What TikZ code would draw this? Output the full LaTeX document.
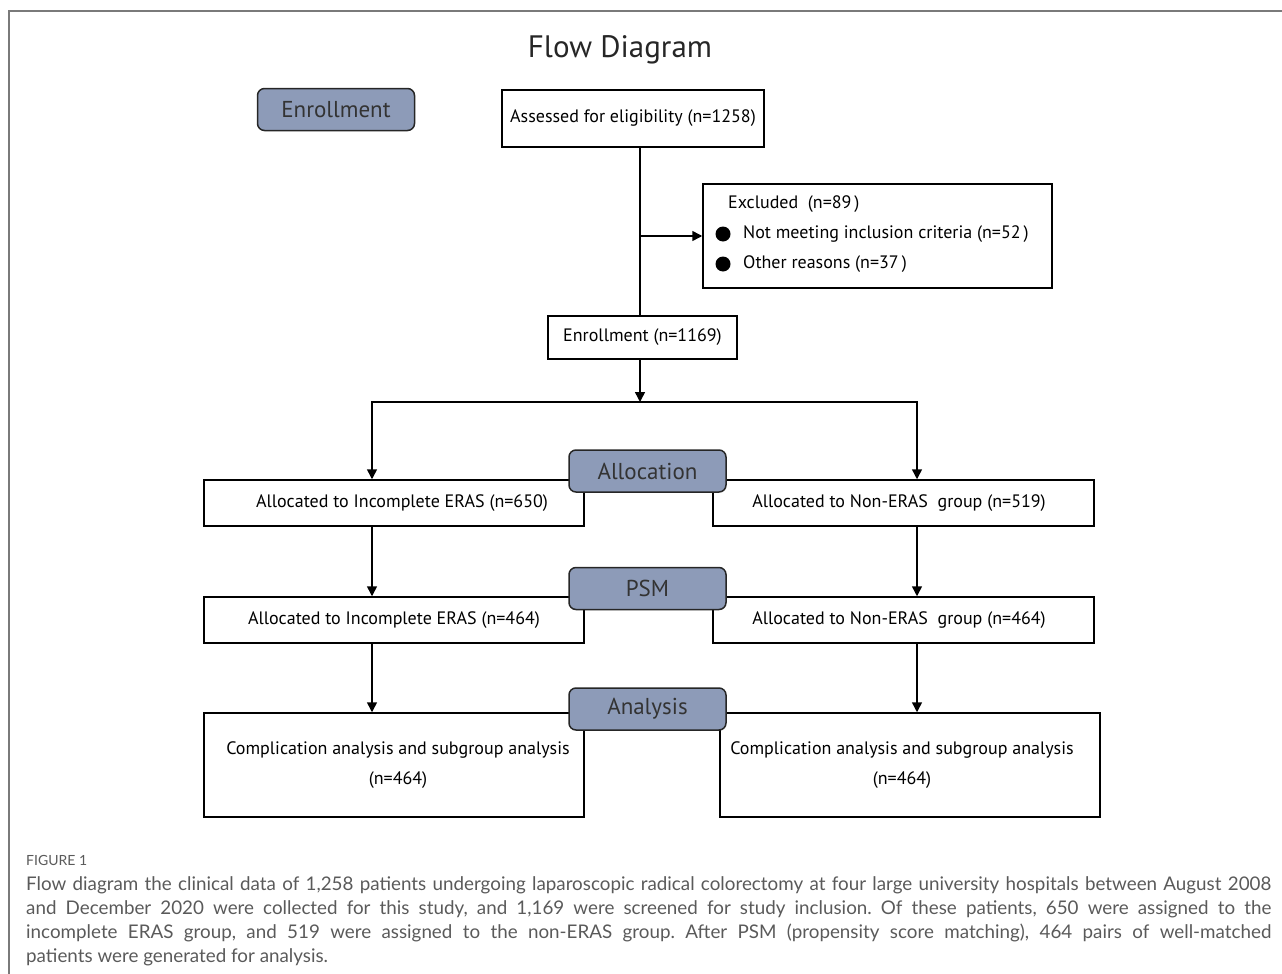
\documentclass[tikz,border=0pt]{standalone}
\usepackage{fontspec}
\setmainfont{PT Sans}
\newfontfamily\capfont{Lato}
\usetikzlibrary{arrows.meta}
\definecolor{lab}{HTML}{8D9BB8}
\definecolor{labtxt}{HTML}{333333}
\definecolor{captxt}{HTML}{5A5A5A}
\definecolor{framec}{HTML}{7A7A7A}
\tikzset{
  box/.style={draw=black, line width=1.5pt, fill=white, inner sep=0pt, font=\fontsize{18}{22}\selectfont, align=center},
  lbl/.style={draw=black!85, line width=1.5pt, fill=lab, rounded corners=7pt, inner sep=0pt, minimum width=157pt, minimum height=42pt, text=labtxt, font=\fontsize{23}{26}\selectfont},
  conn/.style={line width=1.5pt},
  arr/.style={line width=1.5pt, -{Triangle[length=10pt,width=10pt]}},
  txt/.style={inner sep=0pt, font=\fontsize{18}{22}\selectfont}
}
\begin{document}
\frenchspacing
\begin{tikzpicture}[x=1pt,y=-1pt]
\useasboundingbox (0,0) rectangle (1282,974);
% frame
\draw[framec, line width=1.5pt] (9,974) -- (9,11) -- (1282,11);
% title
\node[inner sep=0pt, font=\fontsize{31}{34}\selectfont, text=black!85] (title) at (620,50) {Flow Diagram};
% column coordinates
\coordinate (trunk) at (640,0);
\coordinate (colL) at (372,0);
\coordinate (colR) at (917,0);
\coordinate (split) at (640,402);
% boxes
\node[box, minimum width=262pt, minimum height=57pt] (assess) at (633,118.5) {Assessed for eligibility (n=1258)};
\node[box, minimum width=349pt, minimum height=104pt] (excl) at (877.5,236) {};
\node[txt, anchor=west] (exclt) at (728,204) {Excluded\ \ (n=89\,)};
\node[txt, anchor=west] (ex1) at (743,234) {Not meeting inclusion criteria (n=52\,)};
\node[txt, anchor=west] (ex2) at (743,264) {Other reasons (n=37\,)};
\fill (723,234) circle (7.5pt);
\fill (723,264) circle (7.5pt);
\node[box, minimum width=189pt, minimum height=43pt] (enrol) at (642.5,337.5) {Enrollment (n=1169)};
\node[box, minimum width=380pt, minimum height=46pt] (a1l) at (394,503) {\hspace*{16pt}Allocated to Incomplete ERAS (n=650)};
\node[box, minimum width=381pt, minimum height=46pt] (a1r) at (903.5,503) {Allocated to Non-ERAS\ \ group (n=519)\hspace*{9pt}};
\node[box, minimum width=380pt, minimum height=46pt] (a2l) at (394,620) {Allocated to Incomplete ERAS (n=464)};
\node[box, minimum width=381pt, minimum height=46pt] (a2r) at (903.5,620) {Allocated to Non-ERAS\ \ group (n=464)\hspace*{9pt}};
\node[box, minimum width=380pt, minimum height=104pt] (a3l) at (394,765) {\raisebox{10pt}{\begin{tabular}{@{}c@{}}\hspace*{8pt}Complication analysis and subgroup analysis\\[8pt]\hspace*{8pt}(n=464)\end{tabular}}};
\node[box, minimum width=380pt, minimum height=104pt] (a3r) at (910,765) {\raisebox{10pt}{\begin{tabular}{@{}c@{}}Complication analysis and subgroup analysis\hspace*{16pt}\\[8pt](n=464)\hspace*{16pt}\end{tabular}}};
% connectors
\draw[conn] (assess.south -| trunk) -- (enrol.north -| trunk);
\draw[arr] (trunk |- excl.west) -- (excl.west);
\draw[arr] (enrol.south -| trunk) -- (split);
\draw[arr] (split) -| (a1l.north -| colL);
\draw[arr] (split) -| (a1r.north -| colR);
\draw[arr] (a1l.south -| colL) -- (a2l.north -| colL);
\draw[arr] (a1r.south -| colR) -- (a2r.north -| colR);
\draw[arr] (a2l.south -| colL) -- (a3l.north -| colL);
\draw[arr] (a2r.south -| colR) -- (a3r.north -| colR);
% stage labels
\node[lbl] (lenrol) at (336,109.5) {Enrollment};
\node[lbl] (lalloc) at (647.5,471) {Allocation};
\node[lbl] (lpsm) at (647.5,588.5) {PSM};
\node[lbl] (lana) at (647.5,709) {Analysis};
% caption
\node[anchor=west, inner sep=0pt, text=captxt, font=\capfont\fontsize{14}{16}\selectfont] (fig) at (26,860) {FIGURE 1};
\node[anchor=north west, inner sep=0pt, text width=1245pt, align=justify, text=captxt, font=\capfont\fontsize{18.8}{24}\selectfont] (cap) at (26,876) {Flow diagram the clinical data of 1,258 patients undergoing laparoscopic radical colorectomy at four large university hospitals between August 2008\linebreak and December 2020 were collected for this study, and 1,169 were screened for study inclusion. Of these patients, 650 were assigned to the\linebreak incomplete ERAS group, and 519 were assigned to the non-ERAS group. After PSM (propensity score matching), 464 pairs of well-matched\linebreak patients were generated for analysis.};
\end{tikzpicture}
\end{document}
